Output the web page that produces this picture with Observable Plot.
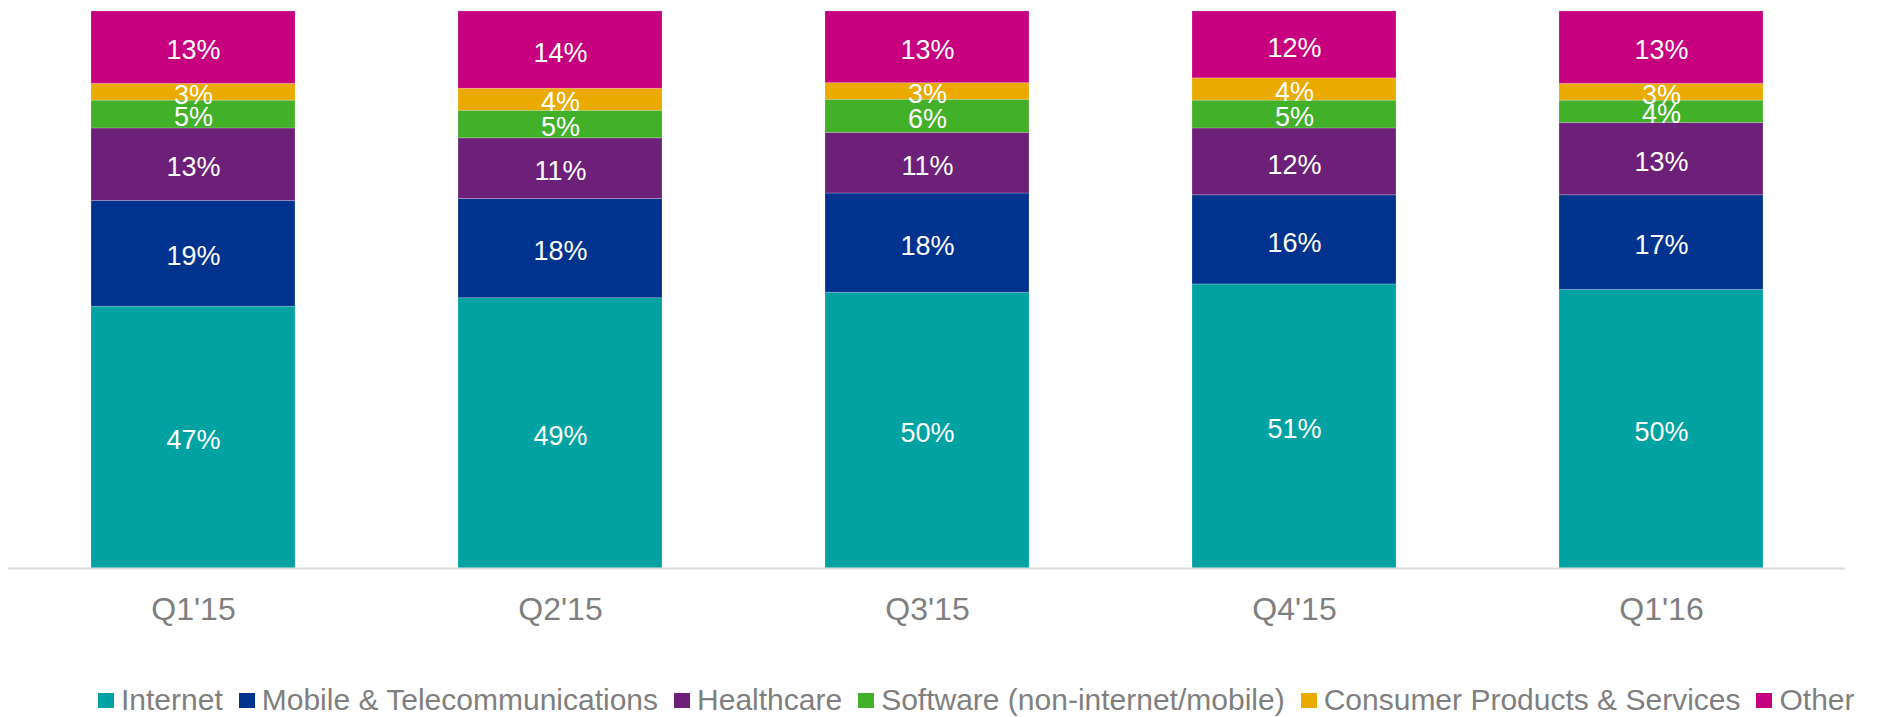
<!DOCTYPE html>
<html>
<head>
<meta charset="utf-8">
<script src="https://cdn.jsdelivr.net/npm/d3@7"></script>
<script src="https://cdn.jsdelivr.net/npm/@observablehq/plot@0.6"></script>
<style>
  html, body { margin: 0; padding: 0; background: #fff; }
  #wrap { position: relative; width: 1885px; height: 717px; font-family: "Liberation Sans", Arial, sans-serif; }
  #legend { position: absolute; left: 98px; top: 685px; display: flex; align-items: center; height: 30px; white-space: nowrap; font-size: 30px; color: #7f7f7f; }
  .item { display: flex; align-items: center; margin-right: 16px; }
  .sw { width: 16px; height: 15px; margin-right: 7px; }
</style>
</head>
<body>
<div id="wrap"><div id="chart"></div><div id="legend"></div></div>
<script>
const quarters = ["Q1'15", "Q2'15", "Q3'15", "Q4'15", "Q1'16"];
const sectors = ["Internet", "Mobile & Telecommunications", "Healthcare", "Software (non-internet/mobile)", "Consumer Products & Services", "Other"];
const colors = ["#00a3a1", "#00338d", "#6d2077", "#43b02a", "#eaaa00", "#c6007e"];
const internet   = [47, 49, 50, 51, 50];
const mobile     = [19, 18, 18, 16, 17];
const healthcare = [13, 11, 11, 12, 13];
const software   = [5, 5, 6, 5, 4];
const consumer   = [3, 4, 3, 4, 3];
const other      = [13, 14, 13, 12, 13];

const seriesValues = [internet, mobile, healthcare, software, consumer, other];
const data = [];
sectors.forEach((s, i) => quarters.forEach((q, j) => data.push({quarter: q, sector: s, value: seriesValues[i][j]})));

const chart = Plot.plot({
  width: 1885,
  height: 650,
  marginTop: 11,
  marginBottom: 82,
  marginLeft: 8,
  marginRight: 40,
  style: {fontFamily: "'Liberation Sans', Arial, sans-serif", color: "#7f7f7f", background: "#fff"},
  x: {domain: quarters, paddingInner: 0.445, paddingOuter: 0.2225, label: null},
  y: {domain: [0, 1], axis: null},
  color: {domain: sectors, range: colors},
  marks: [
    Plot.barY(data, {x: "quarter", y: "value", fill: "sector", offset: "normalize", order: sectors, stroke: "#fff", strokeOpacity: 0.25, strokeWidth: 0.8}),
    Plot.text(data, Plot.stackY({x: "quarter", y: "value", z: "sector", offset: "normalize", order: sectors, text: d => d.value + "%", fill: "white", fontSize: 27, dy: 3})),
    Plot.ruleY([0], {stroke: "#d9d9d9", strokeWidth: 2}),
    Plot.axisX({tickSize: 0, tickPadding: 29, fontSize: 32, color: "#7f7f7f", label: null})
  ]
});
document.getElementById("chart").appendChild(chart);

const legend = document.getElementById("legend");
sectors.forEach((s, i) => {
  const it = document.createElement("div");
  it.className = "item";
  const sw = document.createElement("span");
  sw.className = "sw";
  sw.style.background = colors[i];
  const t = document.createElement("span");
  t.textContent = s;
  it.appendChild(sw); it.appendChild(t);
  legend.appendChild(it);
});
</script>
</body>
</html>
